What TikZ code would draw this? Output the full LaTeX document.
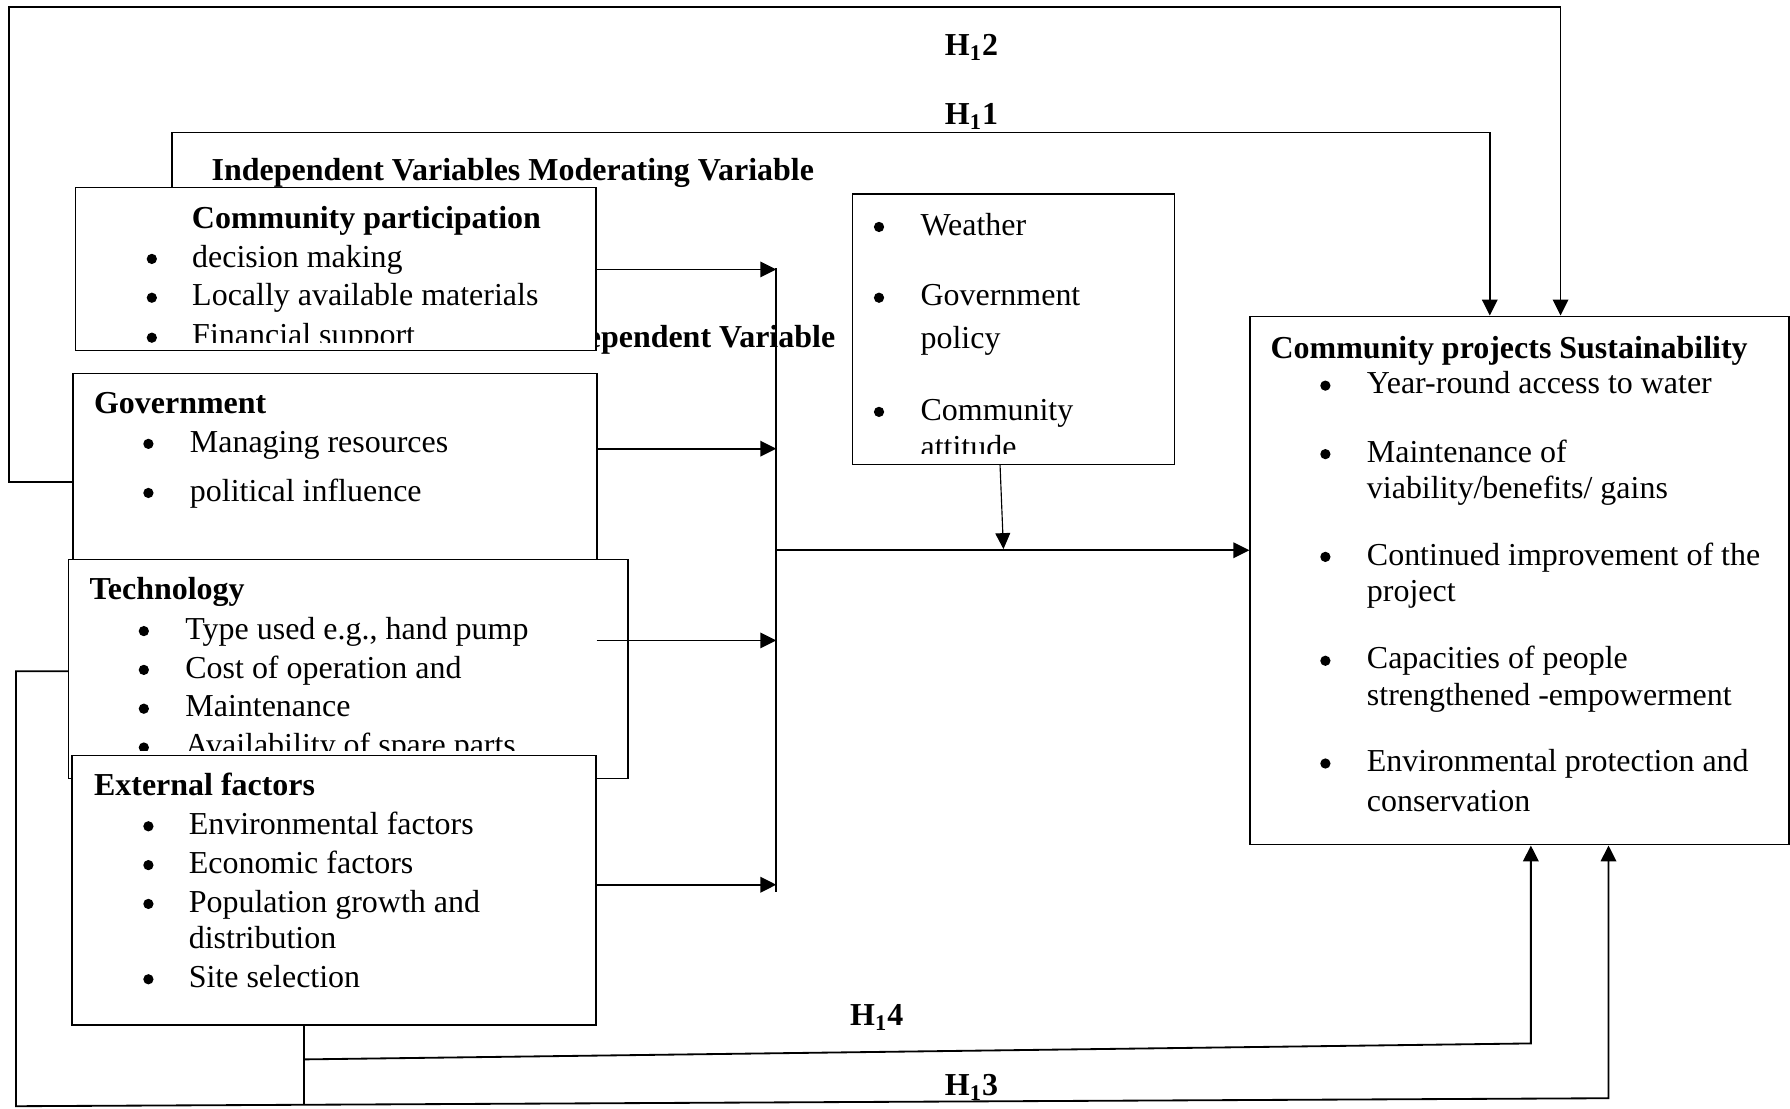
\documentclass[tikz,border=0pt]{standalone}
\usepackage{fontspec}
\setmainfont{Liberation Serif}
\usetikzlibrary{arrows.meta,fit}
\begin{document}
\begin{tikzpicture}[x=0.5pt,y=-0.5pt,
  box/.style={draw, line width=0.6pt, fill=white, inner sep=0pt},
  conn/.style={line width=0.8pt},
  arr/.style={conn, -{Triangle[length=7pt,width=6.8pt]}},
  thinarr/.style={line width=0.5pt, -{Triangle[length=7pt,width=6.5pt]}},
  txt/.style={anchor=base west, inner sep=0pt, font=\fontsize{14}{17}\selectfont},
  hd/.style={anchor=base west, inner sep=0pt, font=\fontsize{14}{17}\selectfont\bfseries},
  bul/.style={circle, fill=black, inner sep=0pt, minimum size=4.5pt, yshift=3.6pt}
]
\useasboundingbox (0,0) rectangle (1568,971);

% hidden label behind the first box
\node[hd, anchor=base east] (depvar) at (732,304) {Dependent Variable};
\node[hd] (indep) at (185,158) {Independent Variables Moderating Variable};

% Community participation
\node[box, fit={(66,164) (522,307)}] (cp) {};
\begin{scope}
\clip (66,164) rectangle (522,300);
\node[hd, anchor=base] (cpt) at (321,200) {Community participation};
\foreach \y/\t [count=\i] in {234/{decision making},268/{Locally available materials},303/{Financial support}} {
  \node[bul] (cpb\i) at (133,\y) {};
  \node[txt] (cpi\i) at (168,\y) {\t};
}
\end{scope}

% Government
\node[box, fit={(64,327) (523,500)}] (gov) {};
\node[hd] (govt) at (82,362) {Government};
\foreach \y/\t [count=\i] in {396/{Managing resources},439/{political influence}} {
  \node[bul] (govb\i) at (130,\y) {};
  \node[txt] (govi\i) at (166,\y) {\t};
}

% Technology
\node[box, fit={(60,490) (550,682)}] (tech) {};
\begin{scope}
\clip (60,490) rectangle (550,657);
\node[hd] (techt) at (78,525) {Technology};
\foreach \y/\t [count=\i] in {560/{Type used e.g., hand pump},594/{Cost of operation and},628/{Maintenance},662/{Availability of spare parts}} {
  \node[bul] (techb\i) at (126,\y) {};
  \node[txt] (techi\i) at (162,\y) {\t};
}
\end{scope}

% External factors
\node[box, fit={(63,662) (522,898)}] (ext) {};
\node[hd] (extt) at (82,697) {External factors};
\foreach \y/\t [count=\i] in {731/{Environmental factors},765/{Economic factors},799/{Population growth and},865/{Site selection}} {
  \node[bul] (extb\i) at (130,\y) {};
  \node[txt] (exti\i) at (165,\y) {\t};
}
\node[txt] (exti5) at (165,831) {distribution};

% Moderating box
\node[box, fit={(747,170) (1029,407)}] (mod) {};
\begin{scope}
\clip (747,170) rectangle (1029,397);
\foreach \y/\t [count=\i] in {206/{Weather},268/{Government},368/{Community}} {
  \node[bul] (modb\i) at (770,\y) {};
  \node[txt] (modi\i) at (806,\y) {\t};
}
\node[txt] (modi4) at (806,305) {policy};
\node[txt] (modi5) at (806,401) {attitude};
\end{scope}

% Sustainability box
\node[box, fit={(1095,277) (1567,740)}] (sus) {};
\node[hd, anchor=base] (sust) at (1322,314) {Community projects Sustainability};
\foreach \y/\t [count=\i] in {345/{Year-round access to water},405/{Maintenance of},495/{Continued improvement of the},586/{Capacities of people},676/{Environmental protection and}} {
  \node[bul] (susb\i) at (1161,\y) {};
  \node[txt] (susi\i) at (1197,\y) {\t};
}
\node[txt] (susj1) at (1197,437) {viability/benefits/ gains};
\node[txt] (susj2) at (1197,527) {project};
\node[txt] (susj3) at (1197,618) {strengthened -empowerment};
\node[txt] (susj4) at (1197,711) {conservation};

% hypothesis labels
\node[hd, anchor=base] (lh2) at (851,49) {H\textsubscript{1}2};
\node[hd, anchor=base] (lh1) at (851,109) {H\textsubscript{1}1};
\node[hd, anchor=base] (lh4) at (768,898) {H\textsubscript{1}4};
\node[hd, anchor=base] (lh3) at (851,960) {H\textsubscript{1}3};

% bus
\coordinate (b1) at (680,236);
\coordinate (b2) at (680,393);
\coordinate (b3) at (680,561);
\coordinate (b4) at (680,775);
\coordinate (btop) at (680,235);
\coordinate (bend) at (680,781);
\coordinate (bmid) at (680,482);
\draw[conn] (btop) -- (bend);
\draw[arr] (cp.east |- b1) -- (b1);
\draw[arr] (gov.east |- b2) -- (b2);
\draw[arr] (ext.east |- b3) -- (b3);
\draw[arr] (ext.east |- b4) -- (b4);
\draw[arr] (bmid) -- (sus.west |- bmid);

% moderating arrow
\coordinate (ms) at (876,407);
\coordinate (me) at (879,481);
\draw[thinarr] (ms) -- (me);

% H11
\coordinate (h1a) at (151,116);
\coordinate (h1b) at (1305,116);
\draw[arr] (cp.north -| h1a) -- (h1a) -- (h1b) -- (sus.north -| h1b);

% H12
\coordinate (h2a) at (8,422);
\coordinate (h2b) at (8,6);
\coordinate (h2c) at (1367,6);
\draw[arr] (gov.west |- h2a) -- (h2a) -- (h2b) -- (h2c) -- (sus.north -| h2c);

% H13
\coordinate (h3a) at (14,588);
\coordinate (h3b) at (14,969);
\coordinate (h3c) at (1409,962);
\draw[arr] (tech.west |- h3a) -- (h3a) -- (h3b) -- (h3c) -- (sus.south -| h3c);

% H14
\coordinate (h4a) at (266,928);
\coordinate (h4b) at (1341,914);
\coordinate (h4c) at (266,968);
\draw[conn] (ext.south -| h4a) -- (h4c);
\draw[arr] (h4a) -- (h4b) -- (sus.south -| h4b);
\end{tikzpicture}
\end{document}
